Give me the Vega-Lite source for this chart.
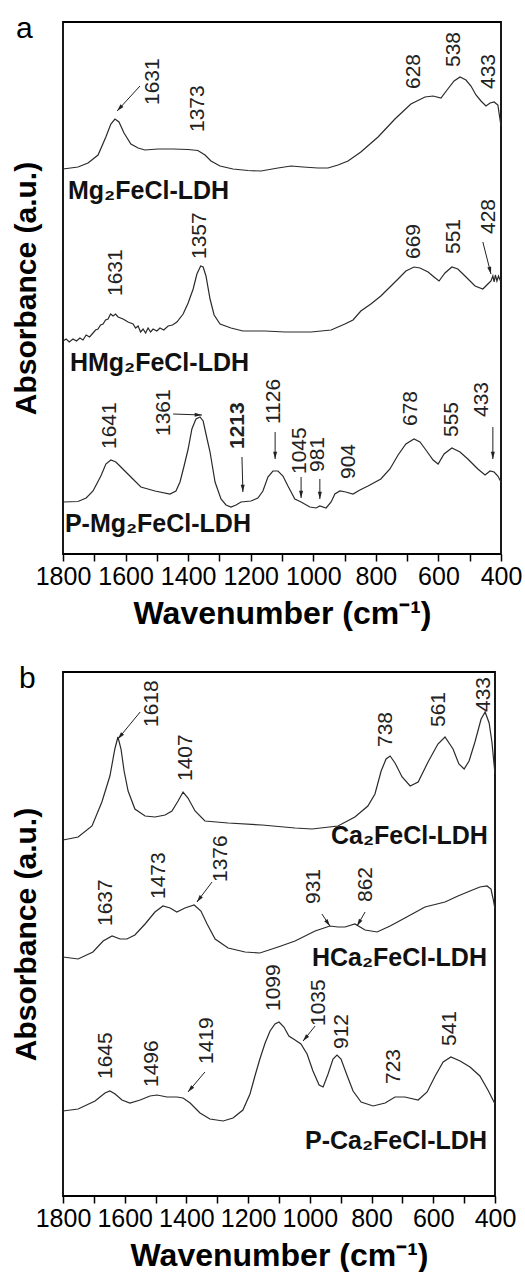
{
  "$schema": "https://vega.github.io/schema/vega-lite/v6.json",
  "padding": {"left": 10, "top": 13, "right": 0, "bottom": 0},
  "spacing": 33,
  "config": {
    "font": "Liberation Sans",
    "view": {"stroke": "black", "strokeWidth": 1.8},
    "axis": {"grid": false, "labelColor": "black", "titleColor": "black"}
  },
  "datasets": {
    "a_spec": [
      {"s":1,"w":1800,"a":385},{"s":1,"w":1752,"a":387},{"s":1,"w":1720,"a":391},{"s":1,"w":1688,"a":399},{"s":1,"w":1663,"a":417},{"s":1,"w":1647,"a":430},{"s":1,"w":1634,"a":435},{"s":1,"w":1621,"a":432},{"s":1,"w":1605,"a":421},{"s":1,"w":1583,"a":410},{"s":1,"w":1560,"a":406},{"s":1,"w":1538,"a":404},{"s":1,"w":1496,"a":405},{"s":1,"w":1448,"a":405},{"s":1,"w":1400,"a":404.5},{"s":1,"w":1369,"a":403.5},{"s":1,"w":1346,"a":399},{"s":1,"w":1327,"a":393},{"s":1,"w":1298,"a":388},{"s":1,"w":1257,"a":385},{"s":1,"w":1209,"a":383.5},{"s":1,"w":1167,"a":383},{"s":1,"w":1113,"a":386},{"s":1,"w":1071,"a":388},{"s":1,"w":1033,"a":387},{"s":1,"w":985,"a":386},{"s":1,"w":953,"a":386},{"s":1,"w":921,"a":389},{"s":1,"w":889,"a":393},{"s":1,"w":848,"a":402},{"s":1,"w":793,"a":417},{"s":1,"w":739,"a":435},{"s":1,"w":688,"a":450},{"s":1,"w":643,"a":457},{"s":1,"w":617,"a":458},{"s":1,"w":592,"a":456},{"s":1,"w":570,"a":465},{"s":1,"w":550,"a":473},{"s":1,"w":531,"a":477},{"s":1,"w":512,"a":474},{"s":1,"w":496,"a":468},{"s":1,"w":480,"a":459},{"s":1,"w":464,"a":453},{"s":1,"w":448,"a":448},{"s":1,"w":435,"a":451},{"s":1,"w":422,"a":452},{"s":1,"w":410,"a":449},{"s":1,"w":400,"a":428},
      {"s":2,"w":1800,"a":213},{"s":2,"w":1790,"a":215},{"s":2,"w":1780,"a":212},{"s":2,"w":1768,"a":215},{"s":2,"w":1757,"a":213},{"s":2,"w":1746,"a":216},{"s":2,"w":1736,"a":214},{"s":2,"w":1726,"a":219},{"s":2,"w":1715,"a":217},{"s":2,"w":1704,"a":221},{"s":2,"w":1696,"a":224},{"s":2,"w":1688,"a":225},{"s":2,"w":1680,"a":229},{"s":2,"w":1672,"a":230},{"s":2,"w":1664,"a":234},{"s":2,"w":1656,"a":235},{"s":2,"w":1648,"a":240},{"s":2,"w":1640,"a":238},{"s":2,"w":1632,"a":240},{"s":2,"w":1624,"a":237},{"s":2,"w":1608,"a":235},{"s":2,"w":1592,"a":232},{"s":2,"w":1576,"a":230},{"s":2,"w":1568,"a":226},{"s":2,"w":1560,"a":228},{"s":2,"w":1552,"a":222},{"s":2,"w":1544,"a":225},{"s":2,"w":1536,"a":221},{"s":2,"w":1528,"a":226},{"s":2,"w":1520,"a":222},{"s":2,"w":1512,"a":225},{"s":2,"w":1500,"a":223},{"s":2,"w":1490,"a":226},{"s":2,"w":1478,"a":224},{"s":2,"w":1464,"a":228},{"s":2,"w":1450,"a":229},{"s":2,"w":1436,"a":232},{"s":2,"w":1416,"a":240},{"s":2,"w":1400,"a":251},{"s":2,"w":1384,"a":265},{"s":2,"w":1372,"a":280},{"s":2,"w":1360,"a":288},{"s":2,"w":1352,"a":287},{"s":2,"w":1343,"a":278},{"s":2,"w":1330,"a":255},{"s":2,"w":1317,"a":239},{"s":2,"w":1298,"a":230},{"s":2,"w":1263,"a":226},{"s":2,"w":1225,"a":223},{"s":2,"w":1154,"a":223},{"s":2,"w":1090,"a":222},{"s":2,"w":1007,"a":222},{"s":2,"w":943,"a":224},{"s":2,"w":899,"a":230},{"s":2,"w":873,"a":234},{"s":2,"w":848,"a":243},{"s":2,"w":816,"a":250},{"s":2,"w":784,"a":258},{"s":2,"w":729,"a":275},{"s":2,"w":704,"a":283},{"s":2,"w":678,"a":287},{"s":2,"w":659,"a":286},{"s":2,"w":633,"a":282},{"s":2,"w":614,"a":277},{"s":2,"w":598,"a":273},{"s":2,"w":579,"a":281},{"s":2,"w":557,"a":287},{"s":2,"w":538,"a":285},{"s":2,"w":515,"a":278},{"s":2,"w":483,"a":268},{"s":2,"w":458,"a":265},{"s":2,"w":442,"a":270},{"s":2,"w":432,"a":273},{"s":2,"w":426,"a":278},{"s":2,"w":422,"a":272},{"s":2,"w":418,"a":279},{"s":2,"w":413,"a":273},{"s":2,"w":408,"a":278},{"s":2,"w":403,"a":274},{"s":2,"w":400,"a":275},
      {"s":3,"w":1800,"a":52},{"s":3,"w":1752,"a":52.5},{"s":3,"w":1726,"a":56},{"s":3,"w":1704,"a":63},{"s":3,"w":1679,"a":78},{"s":3,"w":1663,"a":90},{"s":3,"w":1647,"a":94},{"s":3,"w":1631,"a":92},{"s":3,"w":1615,"a":87},{"s":3,"w":1583,"a":77},{"s":3,"w":1551,"a":67},{"s":3,"w":1506,"a":63},{"s":3,"w":1458,"a":60},{"s":3,"w":1439,"a":63},{"s":3,"w":1426,"a":72},{"s":3,"w":1413,"a":88},{"s":3,"w":1400,"a":105},{"s":3,"w":1388,"a":125},{"s":3,"w":1375,"a":135},{"s":3,"w":1362,"a":137},{"s":3,"w":1352,"a":133},{"s":3,"w":1343,"a":120},{"s":3,"w":1330,"a":102},{"s":3,"w":1314,"a":72},{"s":3,"w":1295,"a":55},{"s":3,"w":1279,"a":49},{"s":3,"w":1263,"a":47},{"s":3,"w":1247,"a":49},{"s":3,"w":1231,"a":52},{"s":3,"w":1199,"a":53},{"s":3,"w":1177,"a":56},{"s":3,"w":1161,"a":63},{"s":3,"w":1145,"a":77},{"s":3,"w":1129,"a":83},{"s":3,"w":1113,"a":83},{"s":3,"w":1097,"a":78},{"s":3,"w":1081,"a":68},{"s":3,"w":1059,"a":55},{"s":3,"w":1039,"a":52},{"s":3,"w":1011,"a":47},{"s":3,"w":991,"a":46},{"s":3,"w":979,"a":48},{"s":3,"w":959,"a":46},{"s":3,"w":943,"a":52},{"s":3,"w":931,"a":60},{"s":3,"w":915,"a":63},{"s":3,"w":896,"a":62},{"s":3,"w":873,"a":60},{"s":3,"w":851,"a":64},{"s":3,"w":825,"a":68},{"s":3,"w":784,"a":75},{"s":3,"w":755,"a":85},{"s":3,"w":729,"a":99},{"s":3,"w":704,"a":110},{"s":3,"w":678,"a":115},{"s":3,"w":659,"a":112},{"s":3,"w":640,"a":104},{"s":3,"w":617,"a":94},{"s":3,"w":601,"a":90},{"s":3,"w":582,"a":100},{"s":3,"w":557,"a":106},{"s":3,"w":531,"a":102},{"s":3,"w":506,"a":95},{"s":3,"w":474,"a":85},{"s":3,"w":451,"a":79},{"s":3,"w":435,"a":83},{"s":3,"w":422,"a":82},{"s":3,"w":410,"a":78},{"s":3,"w":400,"a":72}
    ],
    "a_peaks": [
      {"t":"1631","w":1512,"a":449},{"t":"1373","w":1367,"a":422},{"t":"628","w":678,"a":465},{"t":"538","w":550,"a":487},{"t":"433","w":439,"a":465},
      {"t":"1631","w":1632,"a":258},{"t":"1357","w":1361,"a":295},{"t":"669","w":678,"a":295},{"t":"551","w":550,"a":300},{"t":"428","w":439,"a":320},
      {"t":"1641","w":1650,"a":105},{"t":"1361","w":1477,"a":118},{"t":"1213","w":1241,"a":105},{"t":"1126","w":1126,"a":130},{"t":"1045","w":1043,"a":80},{"t":"981","w":985,"a":82},{"t":"904","w":886,"a":75},{"t":"678","w":688,"a":128},{"t":"555","w":557,"a":117},{"t":"433","w":461,"a":137}
    ],
    "a_arrows": [
      {"w0":1554,"a0":468,"w":1627,"a":443},
      {"w0":458,"a0":312,"w":432,"a":280},
      {"w0":1448,"a0":140,"w":1356,"a":139},
      {"w0":1228,"a0":97,"w":1225,"a":62},
      {"w0":1122,"a0":122,"w":1122,"a":95},
      {"w0":1039,"a0":77,"w":1039,"a":56},
      {"w0":979,"a0":75,"w":979,"a":55},
      {"w0":426,"a0":127,"w":426,"a":95}
    ],
    "a_names": [
      {"t":"Mg₂FeCl-LDH","w":1784,"a":355},
      {"t":"HMg₂FeCl-LDH","w":1778,"a":183},
      {"t":"P-Mg₂FeCl-LDH","w":1794,"a":22}
    ],
    "b_spec": [
      {"s":1,"w":1800,"a":356},{"s":1,"w":1751,"a":359},{"s":1,"w":1706,"a":370},{"s":1,"w":1674,"a":394},{"s":1,"w":1648,"a":420},{"s":1,"w":1632,"a":447},{"s":1,"w":1622,"a":459},{"s":1,"w":1612,"a":447},{"s":1,"w":1602,"a":425},{"s":1,"w":1589,"a":405},{"s":1,"w":1567,"a":387},{"s":1,"w":1534,"a":380},{"s":1,"w":1502,"a":379},{"s":1,"w":1469,"a":381},{"s":1,"w":1447,"a":385},{"s":1,"w":1427,"a":395},{"s":1,"w":1411,"a":404},{"s":1,"w":1395,"a":398},{"s":1,"w":1372,"a":385},{"s":1,"w":1340,"a":375},{"s":1,"w":1265,"a":373},{"s":1,"w":1155,"a":371},{"s":1,"w":1048,"a":368},{"s":1,"w":993,"a":367},{"s":1,"w":909,"a":370},{"s":1,"w":854,"a":379},{"s":1,"w":812,"a":390},{"s":1,"w":789,"a":402},{"s":1,"w":769,"a":425},{"s":1,"w":753,"a":437},{"s":1,"w":740,"a":440},{"s":1,"w":724,"a":433},{"s":1,"w":701,"a":419},{"s":1,"w":675,"a":410},{"s":1,"w":649,"a":414},{"s":1,"w":617,"a":434},{"s":1,"w":585,"a":452},{"s":1,"w":562,"a":459},{"s":1,"w":536,"a":447},{"s":1,"w":517,"a":432},{"s":1,"w":500,"a":427},{"s":1,"w":484,"a":435},{"s":1,"w":465,"a":454},{"s":1,"w":445,"a":477},{"s":1,"w":432,"a":484},{"s":1,"w":419,"a":473},{"s":1,"w":410,"a":454},{"s":1,"w":400,"a":422},
      {"s":2,"w":1800,"a":239},{"s":2,"w":1751,"a":237},{"s":2,"w":1703,"a":244},{"s":2,"w":1670,"a":255},{"s":2,"w":1641,"a":260},{"s":2,"w":1615,"a":257},{"s":2,"w":1593,"a":257},{"s":2,"w":1567,"a":261},{"s":2,"w":1534,"a":272},{"s":2,"w":1502,"a":284},{"s":2,"w":1476,"a":290},{"s":2,"w":1453,"a":288},{"s":2,"w":1431,"a":284},{"s":2,"w":1405,"a":288},{"s":2,"w":1375,"a":291},{"s":2,"w":1353,"a":285},{"s":2,"w":1333,"a":272},{"s":2,"w":1307,"a":257},{"s":2,"w":1265,"a":248},{"s":2,"w":1210,"a":244},{"s":2,"w":1162,"a":243},{"s":2,"w":1103,"a":249},{"s":2,"w":1048,"a":255},{"s":2,"w":983,"a":265},{"s":2,"w":935,"a":270},{"s":2,"w":909,"a":269},{"s":2,"w":886,"a":269},{"s":2,"w":854,"a":272},{"s":2,"w":821,"a":266},{"s":2,"w":782,"a":264},{"s":2,"w":740,"a":270},{"s":2,"w":692,"a":278},{"s":2,"w":627,"a":289},{"s":2,"w":562,"a":294},{"s":2,"w":520,"a":300},{"s":2,"w":481,"a":305},{"s":2,"w":449,"a":309},{"s":2,"w":426,"a":310},{"s":2,"w":413,"a":307},{"s":2,"w":406,"a":297},{"s":2,"w":400,"a":287},
      {"s":3,"w":1800,"a":85},{"s":3,"w":1751,"a":87},{"s":3,"w":1696,"a":95},{"s":3,"w":1664,"a":103},{"s":3,"w":1648,"a":105},{"s":3,"w":1631,"a":102},{"s":3,"w":1609,"a":96},{"s":3,"w":1583,"a":93},{"s":3,"w":1550,"a":96},{"s":3,"w":1518,"a":100},{"s":3,"w":1495,"a":101},{"s":3,"w":1463,"a":99},{"s":3,"w":1431,"a":99},{"s":3,"w":1411,"a":98},{"s":3,"w":1388,"a":93},{"s":3,"w":1356,"a":83},{"s":3,"w":1324,"a":77},{"s":3,"w":1281,"a":75},{"s":3,"w":1249,"a":78},{"s":3,"w":1217,"a":86},{"s":3,"w":1194,"a":102},{"s":3,"w":1178,"a":120},{"s":3,"w":1162,"a":137},{"s":3,"w":1145,"a":153},{"s":3,"w":1129,"a":165},{"s":3,"w":1113,"a":172},{"s":3,"w":1100,"a":174},{"s":3,"w":1084,"a":169},{"s":3,"w":1068,"a":160},{"s":3,"w":1048,"a":156},{"s":3,"w":1029,"a":152},{"s":3,"w":1009,"a":142},{"s":3,"w":990,"a":125},{"s":3,"w":970,"a":111},{"s":3,"w":957,"a":109},{"s":3,"w":941,"a":122},{"s":3,"w":925,"a":137},{"s":3,"w":912,"a":141},{"s":3,"w":899,"a":137},{"s":3,"w":880,"a":121},{"s":3,"w":860,"a":105},{"s":3,"w":834,"a":94},{"s":3,"w":795,"a":90},{"s":3,"w":756,"a":93},{"s":3,"w":724,"a":99},{"s":3,"w":692,"a":99},{"s":3,"w":649,"a":96},{"s":3,"w":620,"a":104},{"s":3,"w":594,"a":120},{"s":3,"w":568,"a":134},{"s":3,"w":543,"a":139},{"s":3,"w":513,"a":135},{"s":3,"w":481,"a":129},{"s":3,"w":449,"a":120},{"s":3,"w":423,"a":106},{"s":3,"w":400,"a":92}
    ],
    "b_peaks": [
      {"t":"1618","w":1512,"a":469},{"t":"1407","w":1401,"a":415},{"t":"738","w":753,"a":449},{"t":"561","w":581,"a":469},{"t":"433","w":436,"a":484},
      {"t":"1637","w":1661,"a":270},{"t":"1473","w":1489,"a":297},{"t":"1376","w":1288,"a":314},{"t":"931","w":987,"a":292},{"t":"862","w":818,"a":294},
      {"t":"1645","w":1661,"a":117},{"t":"1496","w":1512,"a":109},{"t":"1419","w":1333,"a":132},{"t":"1099","w":1116,"a":185},{"t":"1035","w":970,"a":170},{"t":"912","w":896,"a":147},{"t":"723","w":727,"a":112},{"t":"541","w":546,"a":150}
    ],
    "b_arrows": [
      {"w0":1550,"a0":484,"w":1622,"a":457},
      {"w0":1317,"a0":314,"w":1366,"a":294},
      {"w0":961,"a0":282,"w":935,"a":270},
      {"w0":821,"a0":284,"w":847,"a":270},
      {"w0":1340,"a0":124,"w":1395,"a":104},
      {"w0":983,"a0":170,"w":1022,"a":155}
    ],
    "b_names": [
      {"t":"Ca₂FeCl-LDH","w":423,"a":352},
      {"t":"HCa₂FeCl-LDH","w":426,"a":230},
      {"t":"P-Ca₂FeCl-LDH","w":426,"a":47}
    ]
  },
  "vconcat": [
    {
      "width": 438,
      "height": 532,
      "title": {"text": "a", "anchor": "start", "frame": "group", "orient": "top", "offset": 0, "dx": -47, "dy": 22, "fontSize": 30, "fontWeight": "normal", "color": "black"},
      "encoding": {
        "x": {"field": "w", "type": "quantitative", "scale": {"domain": [400, 1800], "reverse": true, "nice": false, "zero": false},
          "axis": {"title": "Wavenumber (cm⁻¹)", "values": [1800,1700,1600,1500,1400,1300,1200,1100,1000,900,800,700,600,500,400], "format": "d", "labelExpr": "datum.value % 200 == 0 ? datum.label : ''", "tickSize": 7, "tickWidth": 1.5, "tickColor": "black", "domain": false, "labelFontSize": 25, "labelPadding": 3, "labelFlush": false, "labelOverlap": false, "labelBound": false, "titleFontSize": 32, "titleFontWeight": "bold", "titlePadding": 9}},
        "y": {"field": "a", "type": "quantitative", "scale": {"domain": [0, 532], "nice": false, "zero": false},
          "axis": {"title": "Absorbance (a.u.)", "ticks": false, "labels": false, "domain": false, "titleFontSize": 30, "titleFontWeight": "bold", "titlePadding": 22}}
      },
      "layer": [
        {"data": {"name": "a_spec"}, "mark": {"type": "line", "stroke": "#2a2a2a", "strokeWidth": 1.2}, "encoding": {"detail": {"field": "s"}}},
        {"data": {"name": "a_arrows"}, "mark": {"type": "rule", "stroke": "#222", "strokeWidth": 1}, "encoding": {"x2": {"field": "w0"}, "y2": {"field": "a0"}}},
        {"data": {"name": "a_arrows"}, "transform": [{"calculate": "atan2(-(datum.w - datum.w0) * 0.31, datum.a - datum.a0) * 180 / PI", "as": "ang"}],
          "mark": {"type": "point", "shape": "M0,0L-0.5,1.8L0.5,1.8Z", "filled": true, "color": "#222", "opacity": 1, "size": 64, "strokeWidth": 0},
          "encoding": {"angle": {"field": "ang", "type": "quantitative", "scale": null}}},
        {"data": {"name": "a_peaks"}, "transform": [{"filter": "datum.t != '1213'"}], "mark": {"type": "text", "angle": 270, "align": "left", "baseline": "middle", "fontSize": 21, "color": "#222"}, "encoding": {"text": {"field": "t"}}},
        {"data": {"name": "a_peaks"}, "transform": [{"filter": "datum.t == '1213'"}], "mark": {"type": "text", "angle": 270, "align": "left", "baseline": "middle", "fontSize": 21, "fontWeight": "bold", "color": "#222"}, "encoding": {"text": {"field": "t"}}},
        {"data": {"name": "a_names"}, "mark": {"type": "text", "align": "left", "baseline": "alphabetic", "fontSize": 25, "fontWeight": "bold", "color": "#111"}, "encoding": {"text": {"field": "t"}}}
      ]
    },
    {
      "width": 432,
      "height": 524,
      "title": {"text": "b", "anchor": "start", "frame": "group", "orient": "top", "offset": 0, "dx": -44, "dy": 22, "fontSize": 30, "fontWeight": "normal", "color": "black"},
      "encoding": {
        "x": {"field": "w", "type": "quantitative", "scale": {"domain": [400, 1800], "reverse": true, "nice": false, "zero": false},
          "axis": {"title": "Wavenumber (cm⁻¹)", "values": [1800,1700,1600,1500,1400,1300,1200,1100,1000,900,800,700,600,500,400], "format": "d", "labelExpr": "datum.value % 200 == 0 ? datum.label : ''", "tickSize": 7, "tickWidth": 1.5, "tickColor": "black", "domain": false, "labelFontSize": 25, "labelPadding": 3, "labelFlush": false, "labelOverlap": false, "labelBound": false, "titleFontSize": 32, "titleFontWeight": "bold", "titlePadding": 9}},
        "y": {"field": "a", "type": "quantitative", "scale": {"domain": [0, 524], "nice": false, "zero": false},
          "axis": {"title": "Absorbance (a.u.)", "ticks": false, "labels": false, "domain": false, "titleFontSize": 30, "titleFontWeight": "bold", "titlePadding": 22}}
      },
      "layer": [
        {"data": {"name": "b_spec"}, "mark": {"type": "line", "stroke": "#2a2a2a", "strokeWidth": 1.2}, "encoding": {"detail": {"field": "s"}}},
        {"data": {"name": "b_arrows"}, "mark": {"type": "rule", "stroke": "#222", "strokeWidth": 1}, "encoding": {"x2": {"field": "w0"}, "y2": {"field": "a0"}}},
        {"data": {"name": "b_arrows"}, "transform": [{"calculate": "atan2(-(datum.w - datum.w0) * 0.31, datum.a - datum.a0) * 180 / PI", "as": "ang"}],
          "mark": {"type": "point", "shape": "M0,0L-0.5,1.8L0.5,1.8Z", "filled": true, "color": "#222", "opacity": 1, "size": 64, "strokeWidth": 0},
          "encoding": {"angle": {"field": "ang", "type": "quantitative", "scale": null}}},
        {"data": {"name": "b_peaks"}, "mark": {"type": "text", "angle": 270, "align": "left", "baseline": "middle", "fontSize": 21, "color": "#222"}, "encoding": {"text": {"field": "t"}}},
        {"data": {"name": "b_names"}, "mark": {"type": "text", "align": "right", "baseline": "alphabetic", "fontSize": 25, "fontWeight": "bold", "color": "#111"}, "encoding": {"text": {"field": "t"}}}
      ]
    }
  ]
}
